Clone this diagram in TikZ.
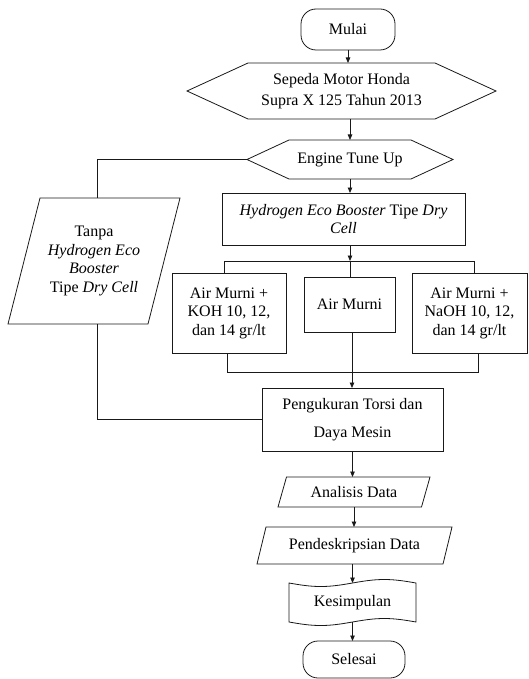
\documentclass[tikz,border=0pt]{standalone}
\usepackage{fontspec}
\setmainfont{Liberation Serif}
\usetikzlibrary{arrows.meta,calc}
\begin{document}
\begin{tikzpicture}[x=1pt,y=-1pt,
  every node/.style={font=\fontsize{16}{18.5}\selectfont, inner sep=0pt, outer sep=0pt},
  ln/.style={line width=0.8pt, draw=black!90},
  arr/.style={ln, -{Triangle[length=5.5pt,width=4.5pt]}},
  shp/.style={rectangle, align=center},
  box/.style={shp, ln, draw},
  term/.style={box, rounded corners=15pt}
]
\useasboundingbox (0,0) rectangle (528,679);

% nodes
\node[term, minimum width=94, minimum height=41] (mul) at (348,29.5) {Mulai};
\node[shp, minimum width=309, minimum height=56, font=\fontsize{16}{21}\selectfont] (sep) at (341.5,91) {Sepeda Motor Honda\\Supra X 125 Tahun 2013};
\node[shp, minimum width=206, minimum height=39] (eng) at (350,159.5) {Engine Tune Up};
\node[box, minimum width=243, minimum height=52] (hyd) at (343.5,219) {\textit{Hydrogen Eco Booster} Tipe \textit{Dry}\\\textit{Cell}};
\node[shp, minimum width=172, minimum height=126] (tan) at (94,261) {Tanpa\\\textit{Hydrogen Eco}\\\textit{Booster}\\Tipe \textit{Dry Cell}};
\node[box, minimum width=114, minimum height=80] (koh) at (229,313) {Air Murni +\\KOH 10, 12,\\dan 14 gr/lt};
\node[box, minimum width=91, minimum height=55] (air) at (349.5,304.5) {Air Murni};
\node[box, minimum width=115, minimum height=80] (nao) at (469.5,313) {Air Murni +\\NaOH 10, 12,\\dan 14 gr/lt};
\node[box, minimum width=181, minimum height=63, font=\fontsize{16}{28}\selectfont] (peng) at (352.5,419.5) {Pengukuran Torsi dan\\Daya Mesin};
\node[shp, minimum width=152, minimum height=30] (ana) at (354,492) {Analisis Data};
\node[shp, minimum width=195, minimum height=37] (pen) at (354.5,545.5) {Pendeskripsian Data};
\node[shp, minimum width=127, minimum height=39] (kes) at (352.5,602.5) {Kesimpulan};
\node[term, minimum width=102, minimum height=37] (sel) at (354,659.5) {Selesai};

% outlines of special shapes
\draw[ln] (sep.west) -- ([xshift=61pt]sep.north west) -- ([xshift=-61pt]sep.north east) -- (sep.east) -- ([xshift=-61pt]sep.south east) -- ([xshift=61pt]sep.south west) -- cycle;
\draw[ln] (eng.west) -- ([xshift=42pt]eng.north west) -- ([xshift=-42pt]eng.north east) -- (eng.east) -- ([xshift=-42pt]eng.south east) -- ([xshift=42pt]eng.south west) -- cycle;
\draw[ln] ([xshift=32pt]tan.north west) -- (tan.north east) -- ([xshift=-32pt]tan.south east) -- (tan.south west) -- cycle;
\draw[ln] ([xshift=8.5pt]ana.north west) -- (ana.north east) -- ([xshift=-8.5pt]ana.south east) -- (ana.south west) -- cycle;
\draw[ln] ([xshift=9pt]pen.north west) -- (pen.north east) -- ([xshift=-9pt]pen.south east) -- (pen.south west) -- cycle;
\draw[ln] plot[domain=0:1, samples=41, smooth] ({289+127*\x}, {583+3.5*sin(360*\x)})
  -- plot[domain=1:0, samples=41, smooth] ({289+127*\x}, {622+3.5*sin(360*\x)}) -- cycle;

% helper coordinates
\coordinate (j1) at (350,261);
\coordinate (jl) at (224,261);
\coordinate (jr) at (474,261);
\coordinate (bl) at (227,372);
\coordinate (br) at (478,372);
\coordinate (c2) at (352,372);
\coordinate (lx) at (97,160);

% connectors
\draw[arr] (mul.south) -- (mul.south |- sep.north);
\draw[arr] (sep.south -| eng.north) -- (eng.north);
\draw[arr] (eng.south) -- (eng.south |- hyd.north);
\draw[arr] (hyd.south -| j1) -- (j1);
\draw[ln] (koh.north -| jl) -- (jl) -- (jr) -- (nao.north -| jr);
\draw[ln] (j1) -- (j1 |- air.north);
\draw[ln] (koh.south -| bl) -- (bl) -- (br) -- (nao.south -| br);
\draw[arr] (air.south -| c2) -- (peng.north -| c2);
\draw[ln] (eng.west) -| (tan.north -| lx);
\draw[ln] (tan.south -| lx) |- (peng.west);
\draw[arr] (peng.south) -- (peng.south |- ana.north);
\draw[arr] (ana.south) -- (ana.south |- pen.north);
\draw[arr] (pen.south -| kes.north) -- (kes.north);
\draw[arr] (kes.south) -- (kes.south |- sel.north);
\end{tikzpicture}
\end{document}
